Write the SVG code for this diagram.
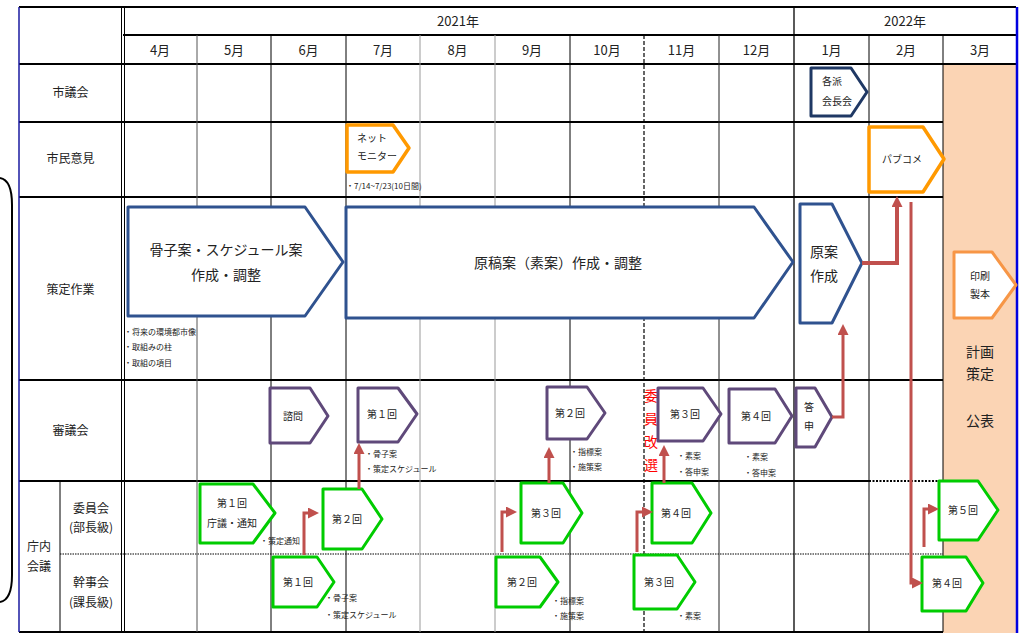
<svg xmlns="http://www.w3.org/2000/svg" width="1019" height="641" viewBox="0 0 1019 641">
<style>
text{font-family:"Noto Sans CJK JP","Noto Sans",sans-serif;fill:#222}
.hd{font-size:13px;text-anchor:middle}
.lb{font-size:12px;text-anchor:middle}
.big{font-size:14px;text-anchor:middle}
.nt{font-size:10px;text-anchor:middle}
.ns{font-size:10px}
.an{font-size:8px}
.thk{stroke:#000;stroke-width:2;fill:none}
.thn{stroke:#000;stroke-width:1;fill:none}
.gry{stroke:#999;stroke-width:1;fill:none}
.navy{fill:#fff;stroke:#1F3864;stroke-width:3;stroke-linejoin:round}
.blu{fill:#fff;stroke:#2F528F;stroke-width:3;stroke-linejoin:round}
.org{fill:#fff;stroke:#FF9900;stroke-width:3.5;stroke-linejoin:round}
.org2{fill:#fff;stroke:#F79646;stroke-width:3;stroke-linejoin:round}
.pur{fill:#fff;stroke:#5F497A;stroke-width:3;stroke-linejoin:round}
.grn{fill:#fff;stroke:#00CC00;stroke-width:3;stroke-linejoin:round}
.ar{fill:none;stroke:#C0504D;stroke-width:3;marker-end:url(#ah)}
</style>
<defs>
<marker id="ah" viewBox="0 0 11 11" refX="0" refY="5.5" markerWidth="11" markerHeight="11" markerUnits="userSpaceOnUse" orient="auto">
<path d="M0,0 L11,5.5 L0,11 z" fill="#C0504D"/>
</marker>
</defs>
<rect x="0" y="0" width="1019" height="641" fill="#fff"/>

<g id="grid">
<rect x="943" y="64" width="73" height="569" fill="#FBD4B4"/>
<!-- horizontal -->
<line class="thk" x1="19" y1="7" x2="1016" y2="7"/>
<line class="thk" x1="123" y1="35" x2="1016" y2="35"/>
<line class="thk" x1="19" y1="64" x2="1016" y2="64"/>
<line class="thk" x1="19" y1="122" x2="943" y2="122"/>
<line class="thk" x1="19" y1="197" x2="943" y2="197"/>
<line class="thk" x1="19" y1="380" x2="943" y2="380"/>
<line class="thk" x1="19" y1="481" x2="869" y2="481"/>
<line x1="869" y1="481" x2="943" y2="481" stroke="#000" stroke-width="2" stroke-dasharray="2 1.5"/>
<line x1="60" y1="554" x2="943" y2="554" stroke="#000" stroke-width="1" stroke-dasharray="1.5 1"/>
<line class="thk" x1="19" y1="632" x2="943" y2="632"/>
<!-- vertical -->
<line x1="19" y1="7" x2="19" y2="632" stroke="#1a1aa0" stroke-width="1.5"/>
<line x1="1017" y1="7" x2="1017" y2="633" stroke="#0000E0" stroke-width="2.5"/>
<line class="thn" x1="121.5" y1="7" x2="121.5" y2="632"/>
<line class="thn" x1="124.5" y1="7" x2="124.5" y2="632"/>
<line class="thn" x1="60" y1="481" x2="60" y2="632"/>
<line x1="197" y1="35" x2="197" y2="632" stroke="#555" stroke-width="1"/>
<line class="thn" x1="271" y1="35" x2="271" y2="632"/>
<line class="thn" x1="346" y1="35" x2="346" y2="632"/>
<line class="gry" x1="420" y1="35" x2="420" y2="632"/>
<line class="gry" x1="495" y1="35" x2="495" y2="632"/>
<line class="thn" x1="570" y1="35" x2="570" y2="632"/>
<line x1="644" y1="35" x2="644" y2="632" stroke="#000" stroke-width="1.2" stroke-dasharray="4 2"/>
<line x1="719" y1="35" x2="719" y2="632" stroke="#222" stroke-width="1"/>
<line x1="794" y1="7" x2="794" y2="632" stroke="#000" stroke-width="1.3"/>
<line class="thn" x1="869" y1="35" x2="869" y2="632"/>
<line class="thn" x1="943" y1="35" x2="943" y2="632"/>
<path d="M0,178 Q12,180 12,205 V575 Q12,600 0,602" fill="none" stroke="#000" stroke-width="2"/>
</g>

<g id="headers">
<text class="hd" x="458" y="26">2021年</text>
<text class="hd" x="905" y="26">2022年</text>
<text class="hd" x="160" y="55">4月</text>
<text class="hd" x="234" y="55">5月</text>
<text class="hd" x="308.5" y="55">6月</text>
<text class="hd" x="383" y="55">7月</text>
<text class="hd" x="457.5" y="55">8月</text>
<text class="hd" x="532" y="55">9月</text>
<text class="hd" x="607" y="55">10月</text>
<text class="hd" x="681.5" y="55">11月</text>
<text class="hd" x="756.5" y="55">12月</text>
<text class="hd" x="831.5" y="55">1月</text>
<text class="hd" x="906" y="55">2月</text>
<text class="hd" x="980" y="55">3月</text>
</g>

<g id="row-labels">
<text class="lb" x="70.5" y="97">市議会</text>
<text class="lb" x="70.5" y="163">市民意見</text>
<text class="lb" x="70.5" y="294">策定作業</text>
<text class="lb" x="70.5" y="435">審議会</text>
<text class="lb" x="39" y="551">庁内</text>
<text class="lb" x="39" y="571">会議</text>
<text class="lb" x="91" y="513">委員会</text>
<text class="lb" x="91" y="532">(部長級)</text>
<text class="lb" x="91" y="587">幹事会</text>
<text class="lb" x="91" y="607">(課長級)</text>
</g>

<g id="n-kakuha">
<polygon class="navy" points="811,68 851,68 867,92 851,116 811,116"/>
<text class="ns" x="822" y="85">各派</text>
<text class="ns" x="822" y="105">会長会</text>
</g>
<g id="n-netmonitor">
<polygon class="org" points="347,125 393,125 409,148 393,172 347,172"/>
<text class="ns" x="357" y="142">ネット</text>
<text class="ns" x="357" y="160">モニター</text>
<text class="an" x="346" y="189">・7/14~7/23(10日間)</text>
</g>
<g id="n-pubcome">
<polygon class="org" points="869,127 923,127 944,159 923,192 869,192"/>
<text class="ns" x="882" y="163">パブコメ</text>
</g>
<g id="n-kossi">
<polygon class="blu" points="128,207 305,207 343,262 305,316 128,316"/>
<text class="big" x="226" y="255">骨子案・スケジュール案</text>
<text class="big" x="226" y="280">作成・調整</text>
<text class="an" x="124" y="335">・将来の環境都市像</text>
<text class="an" x="124" y="350">・取組みの柱</text>
<text class="an" x="124" y="366">・取組の項目</text>
</g>
<g id="n-genkou">
<polygon class="blu" points="346,207 754,207 793,262 754,318 346,318"/>
<text class="big" x="558" y="268">原稿案（素案）作成・調整</text>
</g>
<g id="n-gen-an">
<polygon class="blu" points="800,204 832,204 862,263 832,323 800,323"/>
<text class="big" x="824" y="257">原案</text>
<text class="big" x="824" y="281">作成</text>
</g>
<g id="n-insatsu">
<polygon class="org2" points="954,252 992,252 1016,285 992,318 954,318"/>
<text class="nt" x="980" y="280">印刷</text>
<text class="nt" x="980" y="298">製本</text>
</g>
<g id="n-koukai">
<text class="big" x="980" y="357">計画</text>
<text class="big" x="980" y="379">策定</text>
<text class="big" x="980" y="426">公表</text>
</g>

<g id="n-shimon">
<polygon class="pur" points="270,388 310,388 328,416 310,443 270,443"/>
<text class="nt" x="293" y="420">諮問</text>
</g>
<g id="n-shin1">
<polygon class="pur" points="358,388 398,388 417,414 398,442 358,442"/>
<text class="nt" x="382" y="418">第１回</text>
<text class="an" x="365" y="457">・骨子案</text>
<text class="an" x="365" y="472">・策定スケジュール</text>
</g>
<g id="n-shin2">
<polygon class="pur" points="547,387 587,387 605,413 587,439 547,439"/>
<text class="nt" x="570" y="417">第２回</text>
<text class="an" x="570" y="455">・指標案</text>
<text class="an" x="570" y="470">・施策案</text>
</g>
<g id="n-kaisen">
<text x="651" y="401" style="font-size:14px;text-anchor:middle;fill:#FF0000">委</text>
<text x="651" y="424" style="font-size:14px;text-anchor:middle;fill:#FF0000">員</text>
<text x="651" y="447" style="font-size:14px;text-anchor:middle;fill:#FF0000">改</text>
<text x="651" y="470" style="font-size:14px;text-anchor:middle;fill:#FF0000">選</text>
</g>
<g id="n-shin3">
<polygon class="pur" points="658,388 703,388 721,414 703,441 658,441"/>
<text class="nt" x="685" y="418">第３回</text>
<text class="an" x="677" y="459">・素案</text>
<text class="an" x="677" y="475">・答申案</text>
</g>
<g id="n-shin4">
<polygon class="pur" points="729,389 775,389 792,416 775,443 729,443"/>
<text class="nt" x="756" y="420">第４回</text>
<text class="an" x="744" y="460">・素案</text>
<text class="an" x="744" y="476">・答申案</text>
</g>
<g id="n-toushin">
<polygon class="pur" points="796,388 815,388 832,417 815,447 796,447"/>
<text class="nt" x="809" y="411">答</text>
<text class="nt" x="809" y="430">申</text>
</g>

<g id="n-iin1">
<polygon class="grn" points="200,484 253,484 275,513 253,543 200,543"/>
<text class="nt" x="232" y="507">第１回</text>
<text class="nt" x="232" y="527">庁議・通知</text>
<text class="an" x="260" y="544">・策定通知</text>
</g>
<g id="n-iin2">
<polygon class="grn" points="323,489 362,489 382,519 362,549 323,549"/>
<text class="nt" x="347" y="523">第２回</text>
</g>
<g id="n-iin3">
<polygon class="grn" points="521,483 563,483 582,513 563,543 521,543"/>
<text class="nt" x="546" y="517">第３回</text>
</g>
<g id="n-iin4">
<polygon class="grn" points="652,483 692,483 711,513 692,543 652,543"/>
<text class="nt" x="676" y="517">第４回</text>
</g>
<g id="n-iin5">
<polygon class="grn" points="939,481 978,481 998,510 978,540 939,540"/>
<text class="nt" x="963" y="514">第５回</text>
</g>
<g id="n-kanji1">
<polygon class="grn" points="273,557 317,557 334,582 317,607 273,607"/>
<text class="nt" x="298" y="586">第１回</text>
<text class="an" x="325" y="601">・骨子案</text>
<text class="an" x="325" y="618">・策定スケジュール</text>
</g>
<g id="n-kanji2">
<polygon class="grn" points="496,557 540,557 558,582 540,607 496,607"/>
<text class="nt" x="522" y="586">第２回</text>
<text class="an" x="552" y="604">・指標案</text>
<text class="an" x="552" y="619">・施策案</text>
</g>
<g id="n-kanji3">
<polygon class="grn" points="634,555 677,555 695,582 677,609 634,609"/>
<text class="nt" x="659" y="586">第３回</text>
<text class="an" x="677" y="619">・素案</text>
</g>
<g id="n-kanji4">
<polygon class="grn" points="922,557 966,557 983,583 966,611 922,611"/>
<text class="nt" x="947" y="587">第４回</text>
</g>

<g id="connectors">
<path class="ar" d="M359,489 V454"/>
<path class="ar" d="M304,555 V513 H308"/>
<path class="ar" d="M502,552 V512 H506"/>
<path class="ar" d="M549,483 V458"/>
<path class="ar" d="M637,552 V512 H642"/>
<path class="ar" d="M664,483 V456"/>
<path class="ar" d="M832,417 H843 V335"/>
<path class="ar" d="M862,263 H897 V207" style="stroke-width:4"/>
<path class="ar" d="M911,202 V583 H912"/>
<path class="ar" d="M924,547 V509 H928"/>
</g>
</svg>
